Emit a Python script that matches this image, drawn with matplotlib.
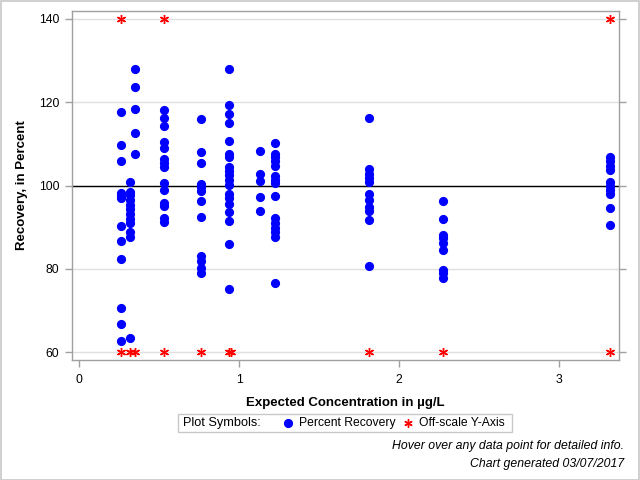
import matplotlib
matplotlib.use("Agg")
import matplotlib.pyplot as plt
from matplotlib.lines import Line2D
from matplotlib.patches import Rectangle

plt.rcParams['font.family'] = ['Liberation Sans', 'DejaVu Sans']

# Expected concentration levels (ug/L) and measured percent recoveries
conc_levels = [0.2625, 0.32, 0.35, 0.53, 0.76, 0.9375, 1.13, 1.225, 1.81, 2.275, 3.32]
recoveries = [
    [117.6, 109.7, 105.8, 98.2, 97.6, 97.0, 90.2, 86.6, 82.3, 70.5, 66.7, 62.6],
    [100.8, 98.5, 97.7, 96.4, 95.4, 94.4, 93.2, 92.0, 91.0, 88.9, 87.7, 63.3],
    [127.9, 123.6, 118.4, 112.7, 107.6],
    [118.1, 116.1, 114.3, 110.4, 109.1, 106.4, 105.3, 104.4, 100.7, 98.9, 95.9, 95.1, 92.3, 91.3],
    [116.0, 108.0, 105.3, 100.3, 99.6, 98.7, 96.3, 92.4, 83.1, 81.9, 80.3, 79.1],
    [127.9, 119.3, 117.1, 114.9, 110.6, 107.6, 106.9, 104.4, 103.5, 102.5, 101.3, 100.1,
     97.9, 96.9, 95.5, 93.6, 91.4, 85.9, 75.1],
    [108.2, 102.7, 101.2, 97.2, 93.8],
    [110.1, 107.6, 106.8, 105.9, 104.7, 102.4, 101.4, 100.5, 97.4, 92.1, 90.9, 89.9, 88.9, 87.7, 76.5],
    [116.1, 103.9, 102.7, 101.7, 100.9, 98.0, 96.4, 94.9, 93.9, 91.7, 80.7],
    [96.2, 91.9, 88.0, 87.3, 86.3, 84.4, 79.7, 79.1, 77.7],
    [106.8, 105.8, 104.8, 103.7, 100.8, 99.9, 99.0, 98.0, 94.5, 90.4],
]
# Off-scale points (plotted at the axis limits)
offscale_high_x = [0.2625, 0.53, 3.32]
offscale_low_x = [0.2625, 0.32, 0.35, 0.53, 0.76, 0.9375, 0.95, 1.81, 2.275, 3.32]
offscale_high_y = 140
offscale_low_y = 60

y_ticks = [60, 80, 100, 120, 140]
x_ticks = [0, 1, 2, 3]
ref_line = 100

BLUE = '#0000FF'
RED = '#FF0000'
GRAY = '#A0A0A0'
ASTER = (6, 2, 0)

fig = plt.figure(figsize=(6.4, 4.8), dpi=100)
W, H = 640.0, 480.0
ax = fig.add_axes([72 / W, 1 - 360 / H, 547 / W, 349 / H])

xs, ys = [], []
for c, vals in zip(conc_levels, recoveries):
    xs += [c] * len(vals)
    ys += vals

for yt in y_ticks:
    ax.axhline(yt, color='#E0E0E0', lw=1, zorder=0)
ax.axhline(ref_line, color='black', lw=1, zorder=1)

ax.plot(xs, ys, linestyle='none', marker='o', ms=5.6, color=BLUE, mec=BLUE, zorder=3)
ax.plot(offscale_high_x, [offscale_high_y] * len(offscale_high_x), linestyle='none',
        marker=ASTER, ms=6.5, mew=1.0, color=RED, zorder=3)
ax.plot(offscale_low_x, [offscale_low_y] * len(offscale_low_x), linestyle='none',
        marker=ASTER, ms=6.5, mew=1.0, color=RED, zorder=3)

ax.set_xlim(-0.044, 3.375)
ax.set_ylim(58.1, 141.9)
ax.set_xticks(x_ticks)
ax.set_yticks(y_ticks)
ax.set_xticklabels([str(v) for v in x_ticks])
ax.set_yticklabels([str(v) for v in y_ticks])

for s in ax.spines.values():
    s.set_color(GRAY)
    s.set_linewidth(1)
ax.tick_params(axis='both', colors=GRAY, labelcolor='black', length=5, width=1,
               labelsize=8.8, direction='out')
ax.tick_params(axis='y', right=True, pad=4)
ax.tick_params(axis='x', pad=5)

ax.set_xlabel('Expected Concentration in µg/L', fontsize=9.5, fontweight='bold', labelpad=8)
ax.set_ylabel('Recovery, in Percent', fontsize=9.5, fontweight='bold', labelpad=8)

# Legend box (manual)
def fx(x):
    return x / W

def fy(y):
    return 1 - y / H

fig.patches.append(Rectangle((fx(178), fy(432)), (512 - 178) / W, 18 / H, transform=fig.transFigure,
                             fill=False, edgecolor='#C8C8C8', lw=1))
fig.text(fx(183), fy(423), 'Plot Symbols:', fontsize=9.2, va='center', ha='left')
fig.lines.append(Line2D([fx(288)], [fy(423)], transform=fig.transFigure, marker='o', ms=5.6,
                        color=BLUE, linestyle='none'))
fig.text(fx(299), fy(423), 'Percent Recovery', fontsize=8.7, va='center', ha='left')
fig.lines.append(Line2D([fx(408)], [fy(423)], transform=fig.transFigure, marker=ASTER, ms=6.0,
                        mew=1.0, color=RED, linestyle='none'))
fig.text(fx(419), fy(423), 'Off-scale Y-Axis', fontsize=8.7, va='center', ha='left')

fig.text(fx(624), fy(446), 'Hover over any data point for detailed info.', fontsize=8.8,
         style='italic', ha='right', va='center')
fig.text(fx(624), fy(464), 'Chart generated 03/07/2017', fontsize=8.8,
         style='italic', ha='right', va='center')

# Outer border
fig.patches.append(Rectangle((0.5 / W, 0.5 / H), 638.5 / W, 478.5 / H, transform=fig.transFigure,
                             fill=False, edgecolor='#C8C8C8', lw=1.2))

fig.savefig('out.png', dpi=100)
